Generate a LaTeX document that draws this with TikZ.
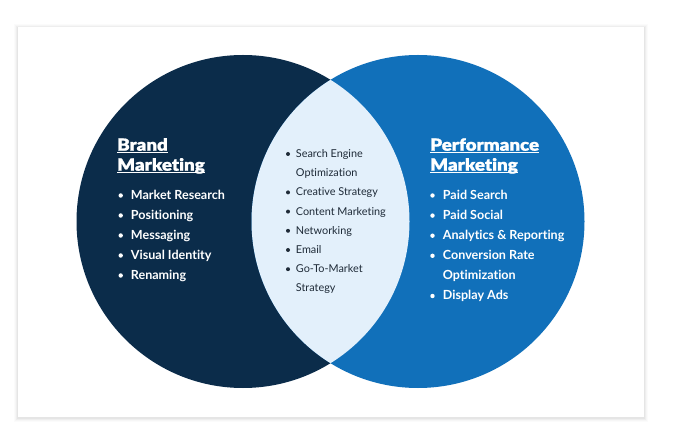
\documentclass[tikz,border=0pt]{standalone}
\usepackage{fontspec}
\setmainfont[Ligatures=NoCommon]{Lato}
\newfontfamily\heavyfont[FakeStretch=1.12, FakeBold=1.2, Ligatures=NoCommon]{Lato Black}
\usetikzlibrary{calc}
\definecolor{navy}{HTML}{0B2C4A}
\definecolor{perfblue}{HTML}{1170BA}
\definecolor{lensblue}{HTML}{E3F0FB}
\definecolor{inktext}{HTML}{1F2B38}

\begin{document}
\begin{tikzpicture}[x=1bp, y=-1bp,
 title/.style={anchor=base west, inner sep=0, text=white, font=\heavyfont\fontsize{16.8}{19}\selectfont},
 sideitem/.style={anchor=base west, inner sep=0, text=white, font=\bfseries\fontsize{12.6}{14}\selectfont},
 miditem/.style={anchor=base west, inner sep=0, text=inktext, font=\fontsize{10.9}{13}\selectfont}]
\useasboundingbox (0,0) rectangle (680,440);

% card with a soft shadow
\foreach \s/\o in {4/0.015, 3/0.02, 2/0.03, 1/0.04}
 \fill[black, opacity=\o] ({18-\s},{27-\s+1}) rectangle ({644+\s},{417+\s+1});
\fill[white] (18,27) rectangle (644,417);

% the two circles and their overlap
\fill[navy] (243,221.5) circle (166.5);
\fill[perfblue] (418,221.5) circle (166.5);
\begin{scope}
 \clip (243,221.5) circle (166.5);
 \fill[lensblue] (418,221.5) circle (166.5);
\end{scope}

% brand marketing
\node[title] (brand1) at (117,150.7) {Brand};
\node[title] (brand2) at (117,170.7) {Marketing};
\foreach \n in {brand1, brand2}
 \draw[white, line width=1.2] ([yshift=-1.8pt]\n.base west) -- ([yshift=-1.8pt]\n.base east);
\foreach \b/\t [count=\i] in {1/Market Research, 1/Positioning, 1/Messaging, 1/Visual Identity, 1/Renaming} {
 \pgfmathsetmacro\y{199.5+20*(\i-1)}
 \node[sideitem] (bm\i) at (130.7,\y) {\t};
 \ifnum\b=1 \fill[white] (120.7,\y-4.0) circle (2.2); \fi
}

% overlap
\foreach \b/\t [count=\i] in {1/Search Engine, 0/Optimization, 1/Creative Strategy, 1/Content Marketing, 1/Networking, 1/Email, 1/Go-To-Market, 0/Strategy} {
 \pgfmathsetmacro\y{157.6+19.2*(\i-1)}
 \node[miditem] (mm\i) at (295.7,\y) {\t};
 \ifnum\b=1 \fill[inktext] (288,\y-3.6) circle (2.0); \fi
}

% performance marketing
\node[title] (perf1) at (430,150.7) {Performance};
\node[title] (perf2) at (430,170.7) {Marketing};
\foreach \n in {perf1, perf2}
 \draw[white, line width=1.2] ([yshift=-1.8pt]\n.base west) -- ([yshift=-1.8pt]\n.base east);
\foreach \b/\t [count=\i] in {1/Paid Search, 1/Paid Social, 1/Analytics \& Reporting, 1/Conversion Rate, 0/Optimization, 1/Display Ads} {
 \pgfmathsetmacro\y{199.5+20.1*(\i-1)}
 \node[sideitem] (pm\i) at (442.7,\y) {\t};
 \ifnum\b=1 \fill[white] (432.5,\y-4.0) circle (2.2); \fi
}
\end{tikzpicture}
\end{document}
